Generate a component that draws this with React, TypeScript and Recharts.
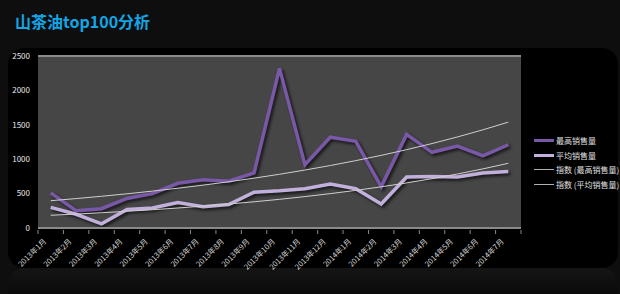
import { LineChart, Line, XAxis, YAxis, CartesianGrid, ReferenceLine } from "recharts";

const months = [
  "2013年1月", "2013年2月", "2013年3月", "2013年4月", "2013年5月", "2013年6月",
  "2013年7月", "2013年8月", "2013年9月", "2013年10月", "2013年11月", "2013年12月",
  "2014年1月", "2014年2月", "2014年3月", "2014年4月", "2014年5月", "2014年6月", "2014年7月",
];
const maxSales = [510, 250, 280, 430, 500, 650, 700, 680, 800, 2320, 920, 1320, 1260, 600, 1360, 1100, 1190, 1050, 1210];
const avgSales = [300, 200, 60, 270, 290, 370, 310, 340, 520, 540, 570, 640, 570, 350, 740, 750, 740, 800, 820];
const yTicks = [0, 500, 1000, 1500, 2000, 2500];

// exponential trendline (least squares on ln y), like Excel's 指数 trend
function expTrend(vals: number[]) {
  const n = vals.length;
  const xs = vals.map((_, i) => i + 1);
  const ls = vals.map((v) => Math.log(v));
  const mx = xs.reduce((a, b) => a + b, 0) / n;
  const ml = ls.reduce((a, b) => a + b, 0) / n;
  let sxy = 0, sxx = 0;
  xs.forEach((x, i) => {
    sxy += (x - mx) * (ls[i] - ml);
    sxx += (x - mx) * (x - mx);
  });
  const b = sxy / sxx;
  const a = ml - b * mx;
  return xs.map((x) => Math.exp(a + b * x));
}

const maxTrend = expTrend(maxSales);
const avgTrend = expTrend(avgSales);

const data = months.map((m, i) => ({
  name: m,
  max: maxSales[i],
  avg: avgSales[i],
  maxTrend: maxTrend[i],
  avgTrend: avgTrend[i],
}));

const legendItems = [
  { label: "最高销售量", color: "#7a58a8", w: 3 },
  { label: "平均销售量", color: "#c2b0dc", w: 3 },
  { label: "指数 (最高销售量)", color: "#b0b0b0", w: 1 },
  { label: "指数 (平均销售量)", color: "#b0b0b0", w: 1 },
];

const BAND = 483 / 19;

// rotated label and a tick mark on the category boundary
const XTick = (props: any) => {
  const { x, y, payload, index } = props;
  const lx = x - 4;
  const ly = y + 10;
  return (
    <g>
      <line x1={x - BAND / 2} x2={x - BAND / 2} y1={y - 2} y2={y + 2} stroke="#8a8a8a" />
      {index === months.length - 1 && (
        <line x1={x + BAND / 2} x2={x + BAND / 2} y1={y - 2} y2={y + 2} stroke="#8a8a8a" />
      )}
      <text x={lx} y={ly} transform={`rotate(-45 ${lx} ${ly})`} textAnchor="end" fontSize={7.5} fill="#d8d8d8">
        {payload.value}
      </text>
    </g>
  );
};

export default function App() {
  return (
    <div style={{ position: "fixed", left: 0, top: 0, width: 620, height: 294, background: "#0e0e0e", overflow: "hidden", fontFamily: "'Noto Sans CJK SC', sans-serif" }}>
      <style>{`.shadowed path { filter: drop-shadow(2px 2px 1.5px rgba(0,0,0,0.7)); }`}</style>
      <div style={{ position: "absolute", left: 15, top: 9, fontSize: 16, fontWeight: 700, color: "#12a6e6" }}>
        山茶油top100分析
      </div>
      <div style={{ position: "absolute", left: 8, top: 48, width: 610, height: 220, background: "#000", borderRadius: 16 }} />
      <div style={{ position: "absolute", left: 8, top: 268, width: 610, height: 26, background: "linear-gradient(#151515, #0a0a0a)", borderRadius: "16px 16px 0 0" }} />
      <div style={{ position: "absolute", left: 0, top: 0 }}>
        <LineChart width={620} height={294} data={data} margin={{ top: 56, right: 99, bottom: 0, left: 0 }}>
          <CartesianGrid horizontal={false} vertical={false} fill="#464646" />
          <XAxis
            dataKey="name"
            interval={0}
            height={66}
            padding={{ left: BAND / 2, right: BAND / 2 }}
            tick={<XTick />}
            axisLine={{ stroke: "#8a8a8a", strokeWidth: 2 }}
            tickLine={false}
            tickSize={2}
          />
          <YAxis
            domain={[0, 2500]}
            ticks={yTicks}
            width={38}
            axisLine={false}
            tickLine={false}
            tick={{ fontSize: 8, fill: "#e8e8e8" }}
          />
          <ReferenceLine y={2500} stroke="#8a8a8a" strokeWidth={2} />
          <Line className="shadowed" dataKey="max" stroke="#7a58a8" strokeWidth={3.5} dot={false} isAnimationActive={false} strokeLinejoin="miter" />
          <Line className="shadowed" dataKey="avg" stroke="#c2b0dc" strokeWidth={3.5} dot={false} isAnimationActive={false} strokeLinejoin="miter" />
          <Line dataKey="maxTrend" type="monotone" stroke="#cfcfcf" strokeWidth={1} dot={false} isAnimationActive={false} />
          <Line dataKey="avgTrend" type="monotone" stroke="#cfcfcf" strokeWidth={1} dot={false} isAnimationActive={false} />
        </LineChart>
      </div>
      <div style={{ position: "absolute", left: 534, top: 133 }}>
        {legendItems.map((it) => (
          <div key={it.label} style={{ display: "flex", alignItems: "center", height: 14.7 }}>
            <div style={{ width: 20, height: it.w, background: it.color, marginRight: 2 }} />
            <span style={{ fontSize: 8, color: "#e0e0e0", whiteSpace: "nowrap" }}>{it.label}</span>
          </div>
        ))}
      </div>
    </div>
  );
}
